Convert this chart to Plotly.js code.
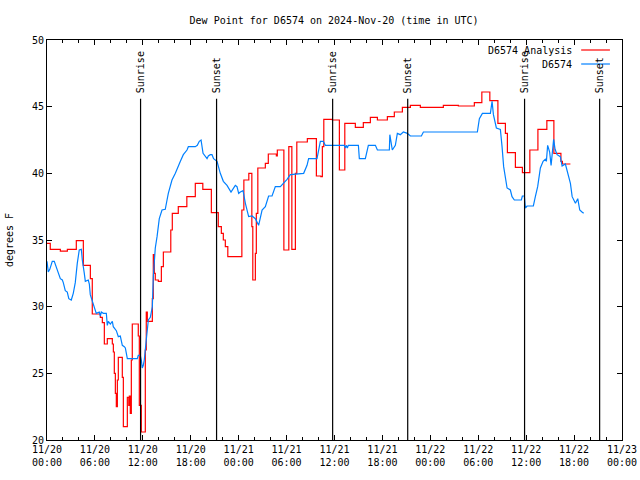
<!DOCTYPE html>
<html>
<head>
<meta charset="utf-8">
<script src="https://cdn.plot.ly/plotly-3.0.1.min.js"></script>
<style>html,body{margin:0;padding:0;background:#fff;}#chart{width:640px;height:480px;}</style>
</head>
<body>
<div id="chart"></div>
<script>
// Start of the time axis (UTC)
const startTime = "2024-11-20T00:00:00Z";
const endTime = "2024-11-23T00:00:00Z";

// D6574 Analysis: hours since 11/20 00:00 UTC and dew point (F), stepped
const analysisHours = [0.00,0.41,1.67,2.55,3.67,4.55,5.43,5.67,6.68,6.93,7.18,7.55,8.18,8.31,8.43,8.56,8.68,8.81,8.93,9.43,9.56,10.06,10.24,10.31,10.43,10.56,10.68,11.43,11.56,11.81,12.31,12.43,12.56,13.19,13.31,13.44,13.56,13.94,14.32,14.57,15.50,15.69,16.44,17.51,18.57,19.51,20.58,21.45,21.83,22.08,22.33,22.64,24.40,24.65,25.27,25.65,25.77,26.09,26.21,26.40,27.34,27.71,28.72,28.84,29.66,30.28,30.66,31.10,31.28,32.60,33.73,34.29,34.48,34.66,35.73,36.61,37.29,38.61,39.61,40.49,41.37,42.62,43.49,44.50,45.50,46.75,49.63,51.51,53.51,54.45,55.45,56.46,57.40,57.65,58.65,59.53,60.46,61.47,62.59,63.47,64.35,64.54,65.54];
const analysisDew = [34.75,34.3,34.17,34.3,34.95,33.1,32.1,29.45,29.2,28.8,27.2,27.6,27.2,26.6,25.0,23.5,22.5,24.5,26.2,24.7,21.0,23.2,22.6,23.3,22.0,26.0,28.7,27.8,22.6,20.6,26.75,29.6,28.9,30.6,33.9,32.5,32.0,31.9,33.0,34.1,35.75,37.0,37.5,38.25,39.25,38.8,37.05,36.0,35.5,35.0,34.5,33.75,37.25,39.5,40.0,36.0,32.0,34.0,37.0,40.4,40.75,41.45,41.3,41.75,34.25,42.0,34.3,40.0,42.35,42.6,39.8,39.75,42.0,44.05,44.0,40.25,43.75,43.45,43.8,44.2,44.0,44.25,44.6,44.95,45.1,44.95,45.1,45.05,45.3,46.1,45.45,43.75,43.0,41.55,40.45,40.05,41.75,43.3,43.95,41.5,40.9,40.7,40.7];

// D6574 observations: hours since 11/20 00:00 UTC and dew point (F)
const obsHours = [0.00,0.16,0.35,0.66,0.91,1.16,1.41,1.67,1.92,2.04,2.29,2.54,2.73,3.04,3.29,3.54,3.79,4.04,4.30,4.42,4.67,4.80,5.17,5.30,5.42,5.67,5.92,6.17,6.55,6.68,6.80,7.05,7.43,7.55,7.68,7.93,8.18,8.30,8.68,8.93,9.18,9.43,9.68,9.81,10.06,11.31,11.43,11.68,11.81,11.93,12.06,12.18,12.43,12.69,12.94,13.19,13.31,13.56,13.78,14.06,14.40,14.81,15.03,15.19,15.65,16.07,16.70,17.07,17.53,17.70,18.57,18.82,19.07,19.29,19.54,20.04,20.20,20.45,20.66,20.86,21.29,21.70,22.08,22.54,23.04,23.58,23.79,24.00,24.21,24.55,24.84,25.25,25.67,26.09,26.50,26.93,27.34,27.75,28.18,28.59,29.22,29.63,30.06,30.47,32.14,32.56,32.76,33.81,34.23,34.60,34.85,37.23,37.36,37.48,37.61,37.73,38.99,39.11,39.86,40.24,41.12,41.37,42.87,42.93,43.12,43.24,43.62,43.87,44.24,44.62,45.12,45.50,46.88,47.13,53.89,54.14,54.52,55.52,55.73,55.90,56.27,56.77,56.98,57.18,57.61,58.02,58.23,58.52,59.40,59.52,59.77,59.90,60.11,60.90,61.15,61.44,61.78,62.12,62.40,62.53,62.69,62.94,63.12,63.28,63.44,63.62,63.87,64.28,64.50,64.91,65.12,65.32,65.54,65.76,66.17,66.46,66.71,66.99,67.20];
const obsDew = [33.4,32.6,32.8,33.4,33.4,33.0,32.5,32.1,32.0,31.8,31.2,31.1,30.6,30.5,31.0,31.8,33.25,34.25,34.3,33.5,32.5,31.9,32.0,31.7,30.9,30.4,29.9,29.5,29.6,29.3,29.6,29.5,29.5,28.6,28.9,28.7,28.9,28.5,28.2,27.75,27.8,27.1,27.0,26.9,26.1,26.1,26.35,26.35,26.0,25.4,25.6,26.0,27.5,29.0,29.2,30.0,32.25,34.4,35.25,36.6,37.25,37.3,38.0,38.5,39.5,40.0,40.9,41.4,41.75,42.0,42.0,42.1,42.4,42.5,41.5,41.1,41.3,41.4,41.4,41.1,40.9,40.0,39.4,39.1,38.6,39.1,39.0,38.5,38.6,38.7,37.75,36.75,36.8,36.6,36.1,37.25,37.5,38.3,38.3,39.0,39.0,39.25,39.55,39.9,40.0,40.6,41.1,41.1,42.4,42.4,42.1,42.1,41.9,42.1,41.9,42.1,42.1,41.1,41.1,42.1,42.1,41.75,41.75,42.9,42.1,41.75,42.1,43.0,42.9,43.1,43.0,42.8,42.8,43.1,43.1,44.1,44.5,44.5,45.4,44.4,43.4,43.3,42.0,40.5,38.9,38.75,38.25,38.0,38.0,38.3,38.3,37.4,37.55,37.55,38.25,39.0,40.4,40.9,41.05,40.9,42.1,41.6,40.6,41.6,42.55,41.8,41.4,41.25,40.55,40.7,40.25,39.9,39.25,38.25,37.75,38.1,37.25,37.1,37.0];

// Sun events (UTC)
const sunLabels = ["Sunrise","Sunset","Sunrise","Sunset","Sunrise","Sunset"];
const sunTimes = ["2024-11-20T11:43:00Z","2024-11-20T21:14:00Z","2024-11-21T11:46:00Z","2024-11-21T21:10:00Z","2024-11-22T11:48:00Z","2024-11-22T21:12:00Z"];
const sunLineTop = 45.6;

const seriesNames = ["D6574 Analysis","D6574"];
const seriesColors = ["#ff0000","#0080ff"];

const t0 = Date.parse(startTime);
function toDate(h){ return new Date(t0 + h*3600000).toISOString().replace('Z',''); }
function utc(s){ return s.replace('Z',''); }

const font = "DejaVu Sans Mono, Liberation Mono, monospace";

const traces = [
  {x: analysisHours.map(toDate), y: analysisDew, type:'scatter', mode:'lines', name: seriesNames[0],
   line:{color:seriesColors[0], width:1.2, shape:'hv'}, showlegend:false},
  {x: obsHours.map(toDate), y: obsDew, type:'scatter', mode:'lines', name: seriesNames[1],
   line:{color:seriesColors[1], width:1.2}, showlegend:false}
];

const shapes = sunTimes.map(t => ({type:'line', xref:'x', yref:'y', x0:utc(t), x1:utc(t), y0:20, y1:sunLineTop,
  line:{color:'#000', width:1.2}}));
const annotations = sunTimes.map((t,i) => ({xref:'x', yref:'y', x:utc(t), y:sunLineTop, text:sunLabels[i],
  textangle:-90, showarrow:false, xanchor:'center', yanchor:'bottom', yshift:3, font:{family:font, size:10, color:'#000'}}));

// custom legend (text right, line sample right)
const legY = [0.975, 0.94];
seriesNames.forEach((n,i) => {
  annotations.push({xref:'paper', yref:'paper', x:0.917, y:legY[i], text:n, showarrow:false,
    xanchor:'right', yanchor:'middle', font:{family:font, size:10, color:'#000'}});
  shapes.push({type:'line', xref:'paper', yref:'paper', x0:0.929, x1:0.979, y0:legY[i], y1:legY[i],
    line:{color:seriesColors[i], width:1.2}});
});

const layout = {
  width:640, height:480,
  margin:{l:47, r:18, t:40, b:40},
  paper_bgcolor:'#fff', plot_bgcolor:'#fff',
  font:{family:font, size:10, color:'#000'},
  title:{text:'Dew Point for D6574 on 2024-Nov-20 (time in UTC)', font:{family:font, size:10, color:'#000'}, x:0.522, xanchor:'center', y:0.958, yanchor:'middle'},
  showlegend:false,
  xaxis:{type:'date', range:[utc(startTime), utc(endTime)], dtick:21600000, tick0:utc(startTime),
    tickformat:'%m/%d<br>%H:%M', ticks:'inside', ticklen:5, tickcolor:'#000', showgrid:false, zeroline:false,
    showline:true, linecolor:'#000', linewidth:1, mirror:'allticks',
    minor:{dtick:7200000, ticks:'inside', ticklen:3, tickcolor:'#000', showgrid:false},
    tickfont:{family:font, size:10, color:'#000'}},
  yaxis:{range:[20,50], dtick:5, ticks:'inside', ticklen:5, tickcolor:'#000', showgrid:false, zeroline:false,
    showline:true, linecolor:'#000', linewidth:1, mirror:'allticks',
    tickfont:{family:font, size:10, color:'#000'},
    title:{text:'degrees F', font:{family:font, size:10, color:'#000'}, standoff:16}},
  shapes: shapes,
  annotations: annotations
};

Plotly.newPlot('chart', traces, layout, {staticPlot:true, displayModeBar:false});
</script>
</body>
</html>
